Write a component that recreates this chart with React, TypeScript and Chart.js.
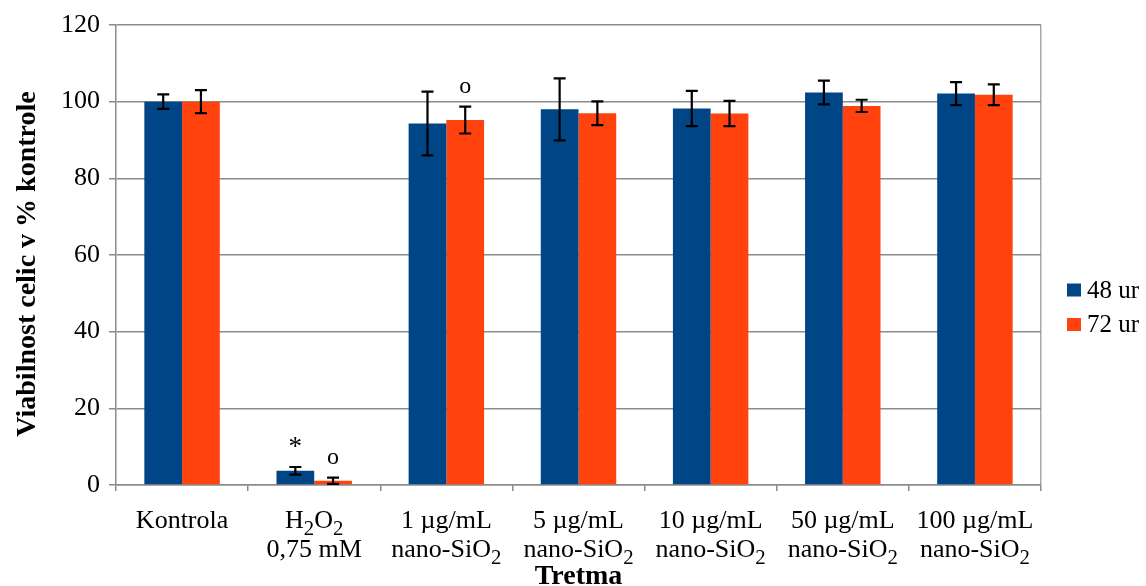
import React, { useEffect, useRef } from 'react';
import { Chart, registerables } from 'chart.js';

Chart.register(...registerables);

// Category labels; "_x" marks a subscript character
const categoryLines: string[][] = [
  ['Kontrola'],
  ['H_2O_2', '0,75 mM'],
  ['1 µg/mL', 'nano-SiO_2'],
  ['5 µg/mL', 'nano-SiO_2'],
  ['10 µg/mL', 'nano-SiO_2'],
  ['50 µg/mL', 'nano-SiO_2'],
  ['100 µg/mL', 'nano-SiO_2'],
];
const seriesNames = ['48 ur', '72 ur'];
const seriesColors = ['#004586', '#FF420E'];
const values48 = [100, 3.7, 94.3, 98.0, 98.2, 102.4, 102.1];
const values72 = [100, 1.1, 95.2, 97.0, 96.9, 98.9, 101.8];
const errors48 = [1.9, 1.0, 8.3, 8.1, 4.6, 3.1, 3.0];
const errors72 = [3.0, 0.8, 3.5, 3.1, 3.3, 1.6, 2.7];
const marks48 = ['', '*', '', '', '', '', ''];
const marks72 = ['', 'o', 'o', '', '', '', ''];
const yMin = 0;
const yMax = 120;
const yStep = 20;
const yTitle = 'Viabilnost celic v % kontrole';
const xTitle = 'Tretma';

const serif = '"Liberation Serif", "Times New Roman", serif';
const labels = categoryLines.map((l) => l.join(' ').replace(/_/g, ''));
const errors = [errors48, errors72];
const marks = [marks48, marks72];

function drawRich(ctx: CanvasRenderingContext2D, text: string, cx: number, baseline: number, size: number) {
  const segs: { t: string; sub: boolean }[] = [];
  for (let i = 0; i < text.length; i++) {
    if (text[i] === '_' && i + 1 < text.length) {
      segs.push({ t: text[i + 1], sub: true });
      i++;
    } else if (segs.length && !segs[segs.length - 1].sub) {
      segs[segs.length - 1].t += text[i];
    } else {
      segs.push({ t: text[i], sub: false });
    }
  }
  const subSize = size * 0.8;
  let total = 0;
  const widths = segs.map((s) => {
    ctx.font = `${s.sub ? subSize : size}px ${serif}`;
    const w = ctx.measureText(s.t).width;
    total += w;
    return w;
  });
  let x = cx - total / 2;
  ctx.textAlign = 'left';
  ctx.textBaseline = 'alphabetic';
  segs.forEach((s, i) => {
    ctx.font = `${s.sub ? subSize : size}px ${serif}`;
    ctx.fillText(s.t, x, baseline + (s.sub ? size * 0.26 : 0));
    x += widths[i];
  });
}

const overlay = {
  id: 'overlay',
  afterDatasetsDraw(chart: any) {
    const ctx: CanvasRenderingContext2D = chart.ctx;
    const yScale = chart.scales.y;
    ctx.save();
    // error bars and significance marks
    chart.data.datasets.forEach((ds: any, di: number) => {
      const meta = chart.getDatasetMeta(di);
      meta.data.forEach((el: any, i: number) => {
        const v = ds.data[i];
        const e = errors[di][i];
        const top = yScale.getPixelForValue(v + e);
        const bot = yScale.getPixelForValue(v - e);
        const x = el.x;
        ctx.strokeStyle = '#000';
        ctx.lineWidth = 2.2;
        ctx.beginPath();
        ctx.moveTo(x, top);
        ctx.lineTo(x, bot);
        ctx.moveTo(x - 6, top);
        ctx.lineTo(x + 6, top);
        ctx.moveTo(x - 6, bot);
        ctx.lineTo(x + 6, bot);
        ctx.stroke();
        const m = marks[di][i];
        if (m) {
          ctx.fillStyle = '#000';
          ctx.font = `${m === '*' ? 27 : 24}px ${serif}`;
          ctx.textAlign = 'center';
          ctx.textBaseline = 'alphabetic';
          ctx.fillText(m, x, top - (m === '*' ? 12 : 14));
        }
      });
    });
    ctx.restore();
  },
  afterDraw(chart: any) {
    const ctx: CanvasRenderingContext2D = chart.ctx;
    const xScale = chart.scales.x;
    const area = chart.chartArea;
    ctx.save();
    ctx.fillStyle = '#000';
    // category labels
    categoryLines.forEach((lines, i) => {
      const cx = xScale.getPixelForValue(i);
      lines.forEach((line, li) => {
        drawRich(ctx, line, cx, area.bottom + 43 + li * 29, 26);
      });
    });
    // axis titles
    ctx.font = `bold 28px ${serif}`;
    ctx.textAlign = 'center';
    ctx.textBaseline = 'alphabetic';
    ctx.fillText(xTitle, (area.left + area.right) / 2, area.bottom + 99);
    ctx.translate(28, 264);
    ctx.rotate(-Math.PI / 2);
    ctx.textBaseline = 'middle';
    ctx.fillText(yTitle, 0, 0);
    ctx.setTransform(1, 0, 0, 1, 0, 0);
    // legend
    seriesNames.forEach((name, i) => {
      const y = 290 + i * 34.5;
      ctx.fillStyle = seriesColors[i];
      ctx.fillRect(1067, y - 6.5, 14, 13);
      ctx.fillStyle = '#000';
      ctx.font = `25px ${serif}`;
      ctx.textAlign = 'left';
      ctx.textBaseline = 'middle';
      ctx.fillText(name, 1087, y + 1);
    });
    ctx.restore();
  },
};

export default function App() {
  const canvasRef = useRef<HTMLCanvasElement | null>(null);

  useEffect(() => {
    const canvas = canvasRef.current;
    if (!canvas) return;
    const chart = new Chart(canvas, {
      type: 'bar',
      data: {
        labels,
        datasets: [values48, values72].map((vals, i) => ({
          label: seriesNames[i],
          data: vals,
          backgroundColor: seriesColors[i],
          borderWidth: 0,
          categoryPercentage: 0.571,
          barPercentage: 1,
        })),
      },
      options: {
        animation: false,
        responsive: false,
        layout: { padding: { top: 25, right: 105, left: 0, bottom: 0 } },
        plugins: { legend: { display: false }, tooltip: { enabled: false } },
        scales: {
          x: {
            offset: true,
            grid: {
              offset: true,
              drawOnChartArea: true,
              color: (c: any) => (c.type === 'tick' ? 'rgba(0,0,0,0)' : '#a8a8a8'),
              tickColor: '#8c8c8c',
              tickLength: 6,
              lineWidth: 1.5,
            },
            border: { color: '#8c8c8c', width: 1.5 },
            ticks: { display: false },
            afterFit: (s: any) => {
              s.height = 101;
            },
          },
          y: {
            min: yMin,
            max: yMax,
            ticks: {
              stepSize: yStep,
              font: { family: serif, size: 26 },
              color: '#000',
              padding: 9,
            },
            grid: { color: '#8c8c8c', lineWidth: 1.5, tickLength: 7 },
            border: { color: '#8c8c8c', width: 1.5 },
            afterFit: (s: any) => {
              s.width = 116;
            },
          },
        },
      },
      plugins: [overlay],
    });
    return () => chart.destroy();
  }, []);

  return (
    <div style={{ position: 'fixed', left: 0, top: 0, width: 1146, height: 586, background: '#fff' }}>
      <canvas ref={canvasRef} width={1146} height={586} style={{ display: 'block' }} />
    </div>
  );
}
